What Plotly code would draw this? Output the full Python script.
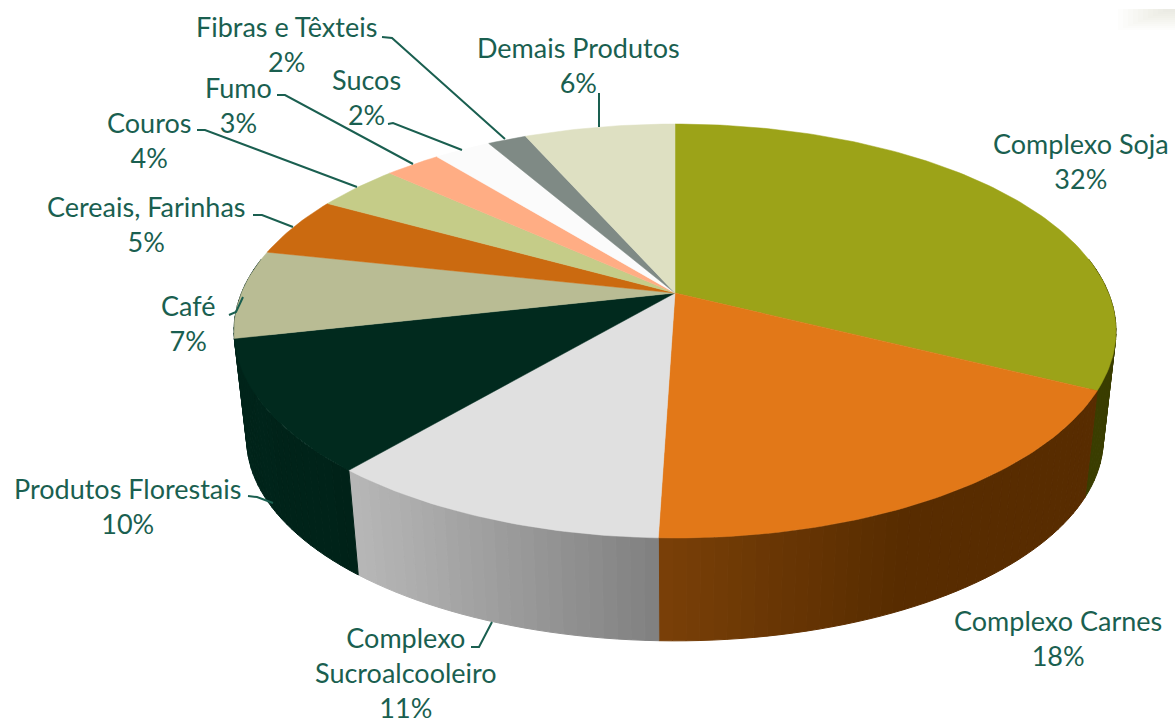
import math
import plotly.graph_objects as go

# ---- data ----
categories = ["Complexo Soja", "Complexo Carnes", "Complexo<br>Sucroalcooleiro", "Produtos Florestais",
              "Café", "Cereais, Farinhas", "Couros", "Fumo", "Sucos", "Fibras e Têxteis", "Demais Produtos"]
values = [32.4, 18.1, 10.7, 10.3, 6.9, 4.7, 3.65, 2.45, 2.5, 1.7, 6.6]
pct_labels = ["32%", "18%", "11%", "10%", "7%", "5%", "4%", "3%", "2%", "2%", "6%"]

# ---- style ----
top_colors = ["#9ca318", "#e27818", "#e0e0e0", "#012a1e", "#b9bc94", "#cb6a10",
              "#c5cc88", "#ffad84", "#fbfbfb", "#7f8a85", "#dee0c2"]
# side gradient per slice: (x_a, rgb_a, x_b, rgb_b), clamped outside the range
side_styles = [
    (1000, (58, 61, 0), 1100, (58, 61, 0)),
    (659, (122, 64, 8), 900, (88, 44, 0)),
    (357, (182, 182, 182), 659, (128, 128, 128)),
    (240, (0, 36, 26), 357, (0, 34, 24)),
    (0, (0, 36, 26), 240, (0, 36, 26)),
    (0, (110, 60, 8), 240, (110, 60, 8)),
    (0, (110, 110, 80), 240, (110, 110, 80)),
    (0, (150, 100, 80), 240, (150, 100, 80)),
    (0, (150, 150, 150), 240, (150, 150, 150)),
    (0, (80, 86, 84), 240, (80, 86, 84)),
    (0, (130, 130, 110), 240, (130, 130, 110)),
]
label_pos = [(1081, 161), (1058, 638), (406, 672), (127, 506), (188, 323), (146, 224),
             (149, 140), (238, 105), (366, 97), (286, 44), (578, 65)]
leaders = [
    [(382, 37), (392, 38), (505, 139)],
    [(599, 93), (599, 127)],
    [(388, 124), (393, 123), (462, 150)],
    [(277, 95), (285, 95), (413, 164)],
    [(197, 130), (205, 130), (357, 187)],
    [(253, 215), (262, 215), (293, 227)],
    [(229, 315), (236, 312), (243, 297)],
    [(248, 496), (257, 497), (273, 503)],
    [(471, 647), (479, 647), (492, 622)],
]
TEXT = "#1a5f50"
FONT = "Lato"
FSIZE = 27

# projection of the pie disc (perspective view)
CX, CY_TOP, RX_TOP, RY_TOP, K = 675, 293, 433.5, 200, 0.1836
CY_BOT, RX_BOT, RY_BOT = 402, 421, 195


def top_pt(deg):
    t = math.radians(deg)
    u, v = math.sin(t), math.cos(t)
    w = 1 + K * v
    return CX + RX_TOP * u / w, CY_TOP - RY_TOP * v / w


def bot_pt(deg):
    t = math.radians(deg)
    u, v = math.sin(t), math.cos(t)
    w = 1 + K * v
    return CX + RX_BOT * u / w, CY_BOT - RY_BOT * v / w


def side_color(style, x):
    xa, ca, xb, cb = style
    f = max(0.0, min(1.0, (x - xa) / (xb - xa)))
    return "rgb(%d,%d,%d)" % tuple(round(a + (b - a) * f) for a, b in zip(ca, cb))


fig = go.Figure()
total = sum(values)
edges = [0.0]
for val in values:
    edges.append(edges[-1] + val / total * 360)

# sides first (only the part facing the viewer)
for i in range(len(values)):
    a0, a1 = edges[i], edges[i + 1]
    lo, hi = max(a0, 80), min(a1, 280)
    if hi <= lo:
        continue
    n = max(1, int((hi - lo) / 1.5))
    for j in range(n):
        s0 = lo + (hi - lo) * j / n
        s1 = lo + (hi - lo) * (j + 1) / n
        p = [top_pt(s0), top_pt(s1), bot_pt(s1), bot_pt(s0), top_pt(s0)]
        col = side_color(side_styles[i], (p[0][0] + p[1][0]) / 2)
        fig.add_trace(go.Scatter(x=[q[0] for q in p], y=[q[1] for q in p], mode="lines",
                                 fill="toself", fillcolor=col, line=dict(color=col, width=1),
                                 hoverinfo="skip", showlegend=False))

# top faces
for i, name in enumerate(categories):
    a0, a1 = edges[i], edges[i + 1]
    n = max(2, int((a1 - a0)))
    rim = [top_pt(a0 + (a1 - a0) * j / n) for j in range(n + 1)]
    p = [(CX, CY_TOP)] + rim + [(CX, CY_TOP)]
    fig.add_trace(go.Scatter(x=[q[0] for q in p], y=[q[1] for q in p], mode="lines",
                             fill="toself", fillcolor=top_colors[i],
                             line=dict(color=top_colors[i], width=0.5),
                             name=name.replace("<br>", " "), text=pct_labels[i],
                             hoverinfo="name+text", showlegend=False))

# leader lines
for ln in leaders:
    fig.add_trace(go.Scatter(x=[q[0] for q in ln], y=[q[1] for q in ln], mode="lines",
                             line=dict(color=TEXT, width=2), hoverinfo="skip", showlegend=False))

annotations = [
    dict(x=pos[0], y=pos[1], xref="x", yref="y", text=f"{c}<br>{p}", showarrow=False,
         xanchor="center", yanchor="middle", align="center",
         font=dict(family=FONT, size=FSIZE, color=TEXT))
    for c, p, pos in zip(categories, pct_labels, label_pos)
]

# faint glow in the top right corner
glow = [dict(type="rect", xref="x", yref="y", x0=1118 + 5 * i, x1=1175, y0=9, y1=30 - 2 * i,
             fillcolor="rgba(215,218,190,0.05)", line_width=0, layer="below") for i in range(10)]

fig.update_layout(
    width=1175, height=725, margin=dict(l=0, r=0, t=0, b=0),
    paper_bgcolor="white", plot_bgcolor="white",
    xaxis=dict(range=[0, 1175], visible=False, fixedrange=True),
    yaxis=dict(range=[725, 0], visible=False, fixedrange=True),
    annotations=annotations, shapes=glow,
)
fig.write_html("out.html", config={"displayModeBar": False},
               post_script="document.body.style.margin='0';document.body.style.overflow='hidden';")
